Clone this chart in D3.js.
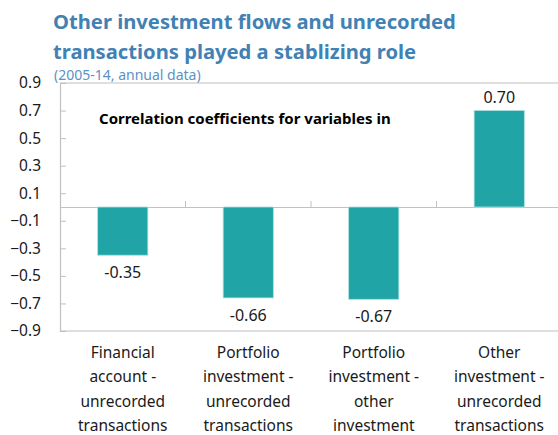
<!DOCTYPE html>
<html>
<head>
<meta charset="utf-8">
<script src="https://cdn.jsdelivr.net/npm/d3@7"></script>
<style>
  body { margin: 0; background: #fff; }
  svg text { font-family: "Noto Sans", "Open Sans", sans-serif; }
</style>
</head>
<body>
<svg id="chart"></svg>
<script>
const categories = [
  ["Financial", "account -", "unrecorded", "transactions"],
  ["Portfolio", "investment -", "unrecorded", "transactions"],
  ["Portfolio", "investment -", "other", "investment"],
  ["Other", "investment -", "unrecorded", "transactions"]
];
const values = [-0.35, -0.66, -0.67, 0.70];
const valueLabels = ["-0.35", "-0.66", "-0.67", "0.70"];
const yTicks = [0.9, 0.7, 0.5, 0.3, 0.1, -0.1, -0.3, -0.5, -0.7, -0.9];

const width = 558, height = 435;
const margin = { top: 83, right: -4, bottom: 104, left: 60 };
const innerW = width - margin.left - margin.right;
const innerH = height - margin.top - margin.bottom;

const svg = d3.select("#chart").attr("width", width).attr("height", height);

// titles
svg.append("text")
  .attr("x", 53).attr("y", 29)
  .attr("fill", "#4181b4").attr("font-size", "20.2px").attr("font-weight", "bold")
  .text("Other investment flows and unrecorded");
svg.append("text")
  .attr("x", 53).attr("y", 59)
  .attr("fill", "#4181b4").attr("font-size", "20.2px").attr("font-weight", "bold")
  .text("transactions played a stablizing role");
svg.append("text")
  .attr("x", 54).attr("y", 80)
  .attr("fill", "#5b92c6").attr("font-size", "14px")
  .text("(2005-14, annual data)");

const g = svg.append("g")
  .attr("transform", "translate(" + margin.left + "," + margin.top + ")");

const x = d3.scaleBand()
  .domain(d3.range(values.length))
  .range([0, innerW])
  .padding(0);

const y = d3.scaleLinear().domain([-0.9, 0.9]).range([innerH, 0]);

// frame: top & bottom lines
g.append("line").attr("x1", 0).attr("x2", innerW).attr("y1", 0).attr("y2", 0)
  .attr("stroke", "#c0c0c0").attr("stroke-width", 1.2);
g.append("line").attr("x1", 0).attr("x2", innerW).attr("y1", innerH).attr("y2", innerH)
  .attr("stroke", "#c0c0c0").attr("stroke-width", 1.2);

// y axis
const yAxis = g.append("g")
  .call(d3.axisRight(y).tickValues(yTicks).tickSize(6).tickFormat(d3.format(".1f")));
yAxis.select(".domain").attr("stroke", "#c0c0c0").attr("stroke-width", 1.2);
yAxis.selectAll(".tick line").attr("stroke", "#c0c0c0");
yAxis.selectAll(".tick text")
  .attr("x", -19).attr("text-anchor", "end")
  .attr("font-size", "15.5px").attr("fill", "#1a1a1a");

// zero line with category separators
const xAxis = g.append("g")
  .attr("transform", "translate(0," + y(0) + ")")
  .call(d3.axisTop(x).tickSize(0).tickFormat(""));
xAxis.select(".domain").attr("stroke", "#c0c0c0").attr("stroke-width", 1.2);
xAxis.selectAll(".tick").remove();
g.selectAll(".sep")
  .data(d3.range(1, values.length))
  .enter().append("line")
  .attr("x1", d => x(d)).attr("x2", d => x(d))
  .attr("y1", y(0) - 6).attr("y2", y(0))
  .attr("stroke", "#c0c0c0");

// bars
const barW = x.bandwidth() * 0.4;
g.selectAll(".bar")
  .data(values)
  .enter().append("rect")
  .attr("x", (d, i) => x(i) + (x.bandwidth() - barW) / 2)
  .attr("width", barW)
  .attr("y", d => y(Math.max(0, d)))
  .attr("height", d => Math.abs(y(d) - y(0)))
  .attr("fill", "#20a4a5")
  .attr("stroke", "#aee0e0").attr("stroke-width", 0.8);

// value labels
g.selectAll(".val")
  .data(values)
  .enter().append("text")
  .attr("x", (d, i) => x(i) + x.bandwidth() / 2)
  .attr("y", d => d < 0 ? y(d) + 23 : y(d) - 8)
  .attr("text-anchor", "middle")
  .attr("font-size", "16px").attr("fill", "#1a1a1a")
  .text((d, i) => valueLabels[i]);

// annotation
g.append("text")
  .attr("x", 39).attr("y", 41)
  .attr("font-size", "15px").attr("font-weight", "bold").attr("fill", "#000")
  .text("Correlation coefficients for variables in");

// category labels
const cat = g.selectAll(".cat")
  .data(categories)
  .enter().append("text")
  .attr("text-anchor", "middle")
  .attr("font-size", "15.5px").attr("fill", "#1a1a1a")
  .attr("transform", (d, i) => "translate(" + (x(i) + x.bandwidth() / 2) + "," + (innerH + 27) + ")");
cat.selectAll("tspan")
  .data(d => d)
  .enter().append("tspan")
  .attr("x", 0)
  .attr("y", (d, i) => i * 24.3)
  .text(d => d);
</script>
</body>
</html>
